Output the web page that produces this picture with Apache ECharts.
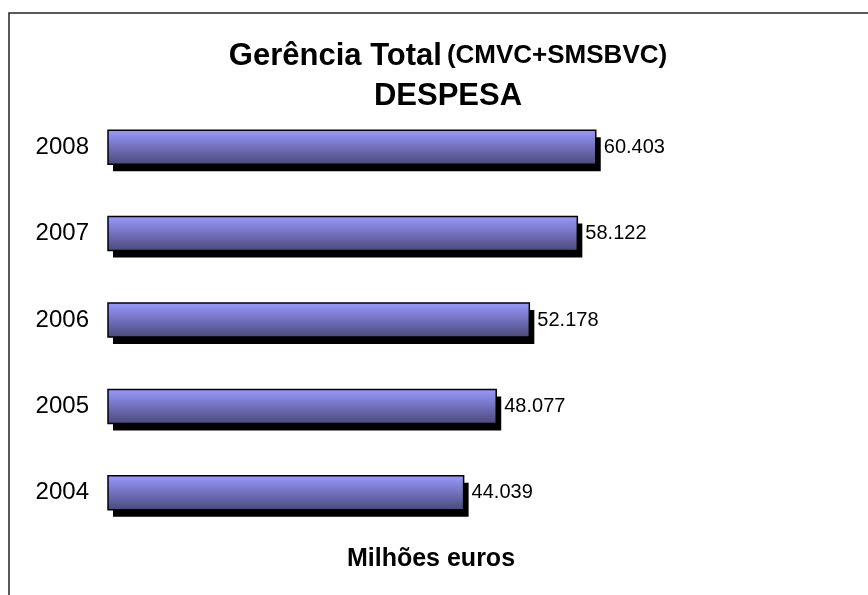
<!DOCTYPE html>
<html>
<head>
<meta charset="utf-8">
<script src="https://cdn.jsdelivr.net/npm/echarts@6/dist/echarts.min.js"></script>
<style>
  html, body { margin: 0; padding: 0; background: #fff; }
  #chart { width: 868px; height: 595px; }
</style>
</head>
<body>
<div id="chart"></div>
<script>
const years = ['2004', '2005', '2006', '2007', '2008']
const despesa = [44.039, 48.077, 52.178, 58.122, 60.403]
const axisName = 'Milhões euros'

const font = '"Liberation Sans", Arial, sans-serif'
const barH = 34
const chart = echarts.init(document.getElementById('chart'))

// bar with a hard black drop shadow, like the old Excel 3D-ish look
const renderBar = (params, api) => {
  const cat = api.value(1)
  const start = api.coord([0, cat])
  const end = api.coord([api.value(0), cat])
  const w = end[0] - start[0]
  const top = start[1] - barH / 2
  return {
    type: 'group',
    children: [
      {
        type: 'rect',
        shape: { x: start[0] + 5, y: top + 7, width: w, height: barH },
        style: { fill: '#000' },
      },
      {
        type: 'rect',
        shape: { x: start[0], y: top, width: w, height: barH },
        style: {
          fill: new echarts.graphic.LinearGradient(0, 0, 0, 1, [
            { offset: 0, color: '#9a9aff' },
            { offset: 1, color: '#48487a' },
          ]),
          stroke: '#000',
          lineWidth: 1.5,
        },
      },
      {
        type: 'text',
        x: end[0] + 8,
        y: end[1],
        style: {
          text: api.value(0).toFixed(3),
          fontFamily: font,
          fontSize: 20,
          fill: '#000',
          verticalAlign: 'middle',
        },
      },
    ],
  }
}

chart.setOption({
  backgroundColor: '#fff',
  animation: false,
  title: {
    left: 448,
    top: 36,
    textAlign: 'center',
    padding: 0,
    text: '{a|Gerência Total} {b|(CMVC+SMSBVC)}\n{a|DESPESA}',
    textStyle: {
      rich: {
        a: { fontFamily: font, fontWeight: 'bold', fontSize: 31, color: '#000', lineHeight: 40 },
        b: { fontFamily: font, fontWeight: 'bold', fontSize: 26, color: '#000', lineHeight: 40 },
      },
    },
  },
  graphic: [
    {
      type: 'polyline',
      shape: { points: [[9, 595], [9, 13], [868, 13]] },
      style: { stroke: '#222', lineWidth: 1.5, fill: null },
      silent: true,
    },
  ],
  grid: { left: 108, right: 114, top: 104, height: 432 },
  xAxis: {
    type: 'value',
    min: 0,
    max: 80,
    name: axisName,
    nameLocation: 'middle',
    nameGap: 11,
    nameTextStyle: { fontFamily: font, fontWeight: 'bold', fontSize: 25, color: '#000' },
    axisLine: { show: false },
    axisTick: { show: false },
    axisLabel: { show: false },
    splitLine: { show: false },
  },
  yAxis: {
    type: 'category',
    data: years,
    axisLine: { show: false },
    axisTick: { show: false },
    axisLabel: { fontFamily: font, fontSize: 24, color: '#000', margin: 19 },
  },
  series: [
    {
      type: 'custom',
      renderItem: renderBar,
      encode: { x: 0, y: 1 },
      data: despesa.map((v, i) => [v, i]),
    },
  ],
})
</script>
</body>
</html>
